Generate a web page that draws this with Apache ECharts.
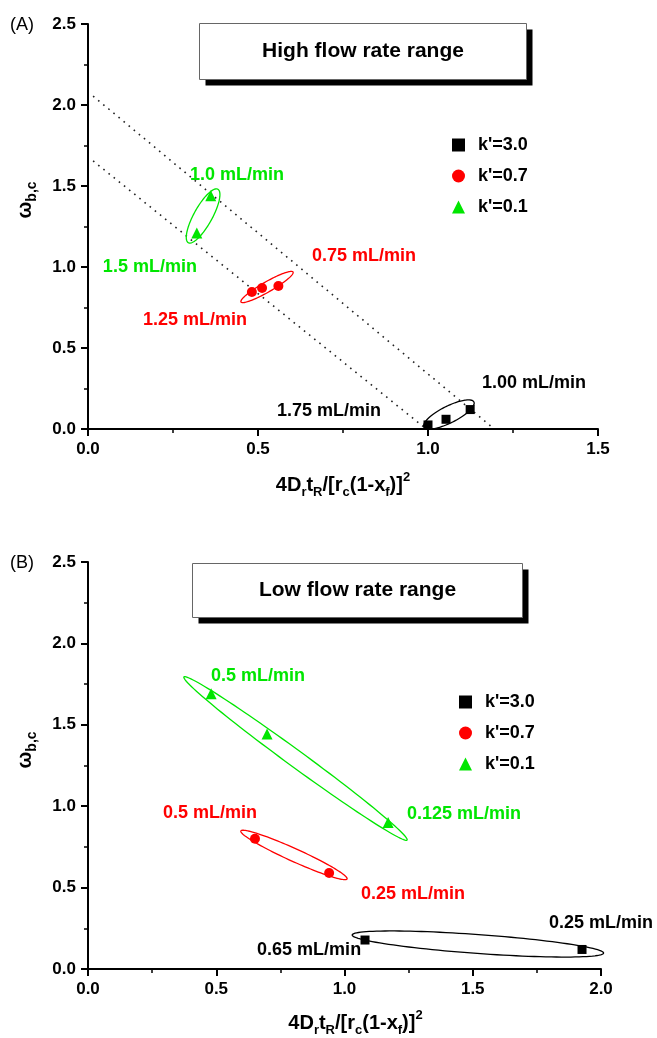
<!DOCTYPE html>
<html>
<head>
<meta charset="utf-8">
<script src="https://cdn.jsdelivr.net/npm/echarts@6/dist/echarts.min.js"></script>
<style>
html,body{margin:0;padding:0;background:#fff;}
#chart{width:657px;height:1038px;}
</style>
</head>
<body>
<div id="chart"></div>
<script>
// ---------- data ----------
var seriesNames = ["k'=3.0", "k'=0.7", "k'=0.1"];
var yTicks = [0, 0.5, 1.0, 1.5, 2.0, 2.5];
var xTicksA = [0, 0.5, 1.0, 1.5];
var xTicksB = [0, 0.5, 1.0, 1.5, 2.0];

// Panel A (high flow rate range)
var k30A = [[1.00, 0.025], [1.053, 0.06], [1.124, 0.12]];
var k07A = [[0.482, 0.846], [0.512, 0.87], [0.56, 0.883]];
var k01A = [[0.361, 1.44], [0.32, 1.21]];
var dotUpperA = [[0.015, 2.055], [1.195, 0.0]];
var dotLowerA = [[0.015, 1.655], [0.995, 0.0]];
// ellipses: [x1, y1, x2, y2, minor/major ratio]
var ellipsesA = [
  [0.988, 0.012, 1.135, 0.167, 0.30],
  [0.45, 0.784, 0.603, 0.969, 0.17],
  [0.295, 1.15, 0.382, 1.48, 0.30]
];
var labelsA = [
  [0.438, 1.568, '1.0 mL/min', 2],
  [0.182, 1.0, '1.5 mL/min', 2],
  [0.812, 1.068, '0.75 mL/min', 1],
  [0.315, 0.673, '1.25 mL/min', 1],
  [0.709, 0.111, '1.75 mL/min', 0],
  [1.312, 0.284, '1.00 mL/min', 0]
];

// Panel B (low flow rate range)
var k30B = [[1.08, 0.178], [1.926, 0.12]];
var k07B = [[0.651, 0.80], [0.94, 0.59]];
var k01B = [[0.48, 1.69], [0.698, 1.443], [1.17, 0.90]];
var ellipsesB = [
  [1.03, 0.209, 2.01, 0.098, 0.075],
  [0.596, 0.848, 1.01, 0.553, 0.11],
  [0.374, 1.794, 1.244, 0.792, 0.06]
];
var labelsB = [
  [0.663, 1.80, '0.5 mL/min', 2],
  [1.466, 0.952, '0.125 mL/min', 2],
  [0.476, 0.958, '0.5 mL/min', 1],
  [1.267, 0.461, '0.25 mL/min', 1],
  [2.0, 0.283, '0.25 mL/min', 0],
  [0.862, 0.117, '0.65 mL/min', 0]
];

// ---------- style ----------
var FONT = '"Liberation Sans", Arial, sans-serif';
var colors = ['#000000', '#ff0000', '#00e600'];
var symbols = ['rect', 'circle', 'triangle'];
var symSizes = [9, 10, 11];

var chart = echarts.init(document.getElementById('chart'), null, {renderer: 'canvas'});

function xAxisDef(idx, maxV, gap, shift) {
  return {
    type: 'value', gridIndex: idx, min: 0, max: maxV, interval: 0.5,
    name: '{n|4D}{s|r}{n|t}{s|R}{n|/[r}{s|c}{n|(1-x}{s|f}{n|)]}{p|2}',
    nameLocation: 'middle', nameGap: gap,
    nameTextStyle: {
      padding: [0, 0, 0, shift],
      rich: {
        n: {fontFamily: FONT, fontWeight: 'bold', fontSize: 20, color: '#000', lineHeight: 28, verticalAlign: 'middle'},
        s: {fontFamily: FONT, fontWeight: 'bold', fontSize: 13, color: '#000', lineHeight: 12, verticalAlign: 'bottom'},
        p: {fontFamily: FONT, fontWeight: 'bold', fontSize: 13, color: '#000', lineHeight: 12, verticalAlign: 'top'}
      }
    },
    axisLine: {show: true, onZero: false, lineStyle: {color: '#000', width: 2}},
    axisTick: {show: true, inside: false, length: 7, lineStyle: {color: '#000', width: 2}},
    minorTick: {show: true, splitNumber: 2, length: 4, lineStyle: {color: '#000', width: 1.5}},
    splitLine: {show: false},
    axisLabel: {
      margin: 12, color: '#000', fontFamily: FONT, fontWeight: 'bold', fontSize: 17,
      formatter: function (v) { return v.toFixed(1); }
    }
  };
}
function yAxisDef(idx) {
  return {
    type: 'value', gridIndex: idx, min: 0, max: 2.5, interval: 0.5,
    axisLine: {show: true, onZero: false, lineStyle: {color: '#000', width: 2}},
    axisTick: {show: true, inside: false, length: 7, lineStyle: {color: '#000', width: 2}},
    minorTick: {show: true, splitNumber: 2, length: 4, lineStyle: {color: '#000', width: 1.5}},
    splitLine: {show: false},
    axisLabel: {
      margin: 12, color: '#000', fontFamily: FONT, fontWeight: 'bold', fontSize: 17,
      formatter: function (v) { return v.toFixed(1); }
    }
  };
}

function scatter(name, data, k, idx) {
  return {
    type: 'scatter', name: name, xAxisIndex: idx, yAxisIndex: idx,
    data: data, symbol: symbols[k], symbolSize: symSizes[k],
    itemStyle: {color: colors[k], opacity: 1}, z: 5
  };
}
function dotted(data, idx) {
  return {
    type: 'line', xAxisIndex: idx, yAxisIndex: idx, data: data,
    symbol: 'none', silent: true, z: 2,
    lineStyle: {color: '#222', width: 1.6, type: [1.6, 5]}
  };
}
function ellipseSeries(data, idx) {
  return {
    type: 'custom', xAxisIndex: idx, yAxisIndex: idx, silent: true, z: 3,
    data: data,
    encode: {x: [0, 2], y: [1, 3]},
    renderItem: function (params, api) {
      var p1 = api.coord([api.value(0), api.value(1)]);
      var p2 = api.coord([api.value(2), api.value(3)]);
      var ratio = api.value(4);
      var cx = (p1[0] + p2[0]) / 2, cy = (p1[1] + p2[1]) / 2;
      var dx = p2[0] - p1[0], dy = p2[1] - p1[1];
      var a = Math.sqrt(dx * dx + dy * dy) / 2, b = a * ratio;
      var ang = Math.atan2(dy, dx);
      var pts = [];
      for (var t = 0; t < 120; t++) {
        var th = t / 120 * Math.PI * 2;
        var ex = a * Math.cos(th), ey = b * Math.sin(th);
        pts.push([cx + ex * Math.cos(ang) - ey * Math.sin(ang), cy + ex * Math.sin(ang) + ey * Math.cos(ang)]);
      }
      return {
        type: 'polygon', shape: {points: pts},
        style: {fill: 'none', stroke: colors[params.dataIndex], lineWidth: 1.3}
      };
    }
  };
}
function labelSeries(data, idx) {
  return {
    type: 'scatter', xAxisIndex: idx, yAxisIndex: idx, silent: true, z: 6,
    symbolSize: 0,
    itemStyle: {opacity: 1},
    data: data.map(function (d) {
      return {
        value: [d[0], d[1]], name: d[2],
        label: {color: colors[d[3]]}
      };
    }),
    label: {
      show: true, position: 'inside', formatter: function (p) { return p.name; },
      fontFamily: FONT, fontWeight: 'bold', fontSize: 18, opacity: 1
    }
  };
}

function legendDef(left, top) {
  return {
    orient: 'vertical', left: left, top: top, itemWidth: 13, itemHeight: 13, itemGap: 13,
    data: seriesNames, selectedMode: false,
    formatter: function (n) { return '{t|' + n + '}'; },
    textStyle: {
      rich: {t: {fontFamily: FONT, fontWeight: 'bold', fontSize: 18, color: '#000', padding: [0, 0, 0, 8]}}
    }
  };
}

function titleBox(x, y, w, h, text) {
  return {
    type: 'group', left: x, top: y,
    children: [
      {type: 'rect', shape: {x: 6, y: 6, width: w, height: h}, style: {fill: '#000'}},
      {type: 'rect', shape: {x: 0, y: 0, width: w, height: h}, style: {fill: '#fff', stroke: '#666', lineWidth: 1}},
      {type: 'text', x: w / 2, y: h / 2, style: {text: text, fill: '#000', font: 'bold 21px ' + FONT, align: 'center', verticalAlign: 'middle'}}
    ]
  };
}
function yTitle(x, y) {
  return {
    type: 'text', x: x, y: y, rotation: Math.PI / 2,
    style: {
      text: '{n|ω}{s|b,c}', align: 'center', verticalAlign: 'middle',
      rich: {
        n: {font: 'bold 20px ' + FONT, fill: '#000', lineHeight: 28, verticalAlign: 'middle'},
        s: {font: 'bold 14px ' + FONT, fill: '#000', lineHeight: 13, verticalAlign: 'bottom'}
      }
    }
  };
}

var option = {
  backgroundColor: '#fff',
  animation: false,
  grid: [
    {left: 88, top: 24, width: 510, height: 405},
    {left: 88, top: 562, width: 513, height: 407}
  ],
  xAxis: [xAxisDef(0, 1.5, 42, 0), xAxisDef(1, 2.0, 40, 22)],
  yAxis: [yAxisDef(0), yAxisDef(1)],
  legend: [legendDef(447, 131), legendDef(454, 688)],
  graphic: [
    titleBox(199, 23, 327, 56, 'High flow rate range'),
    titleBox(192, 563, 330, 54, 'Low flow rate range'),
    {type: 'text', x: 10, y: 16, style: {text: '(A)', font: '18px ' + FONT, fill: '#000'}},
    {type: 'text', x: 10, y: 554, style: {text: '(B)', font: '18px ' + FONT, fill: '#000'}},
    yTitle(25, 200),
    yTitle(25, 750)
  ],
  series: [
    dotted(dotUpperA, 0), dotted(dotLowerA, 0),
    ellipseSeries(ellipsesA, 0),
    scatter(seriesNames[0], k30A, 0, 0),
    scatter(seriesNames[1], k07A, 1, 0),
    scatter(seriesNames[2], k01A, 2, 0),
    labelSeries(labelsA, 0),
    ellipseSeries(ellipsesB, 1),
    scatter(seriesNames[0], k30B, 0, 1),
    scatter(seriesNames[1], k07B, 1, 1),
    scatter(seriesNames[2], k01B, 2, 1),
    labelSeries(labelsB, 1)
  ]
};
chart.setOption(option);
</script>
</body>
</html>
